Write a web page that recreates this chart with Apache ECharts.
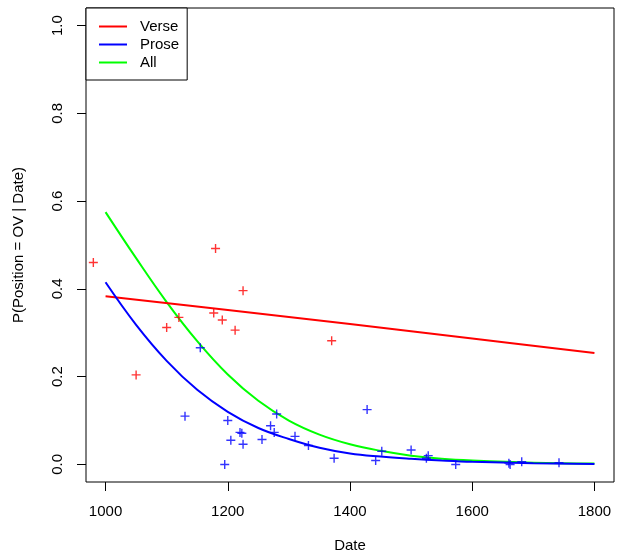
<!DOCTYPE html>
<html>
<head>
<meta charset="utf-8">
<script src="https://cdn.jsdelivr.net/npm/echarts@6/dist/echarts.min.js"></script>
<style>
html,body{margin:0;padding:0;background:#fff;}
#chart{width:619px;height:554px;}
</style>
</head>
<body>
<div id="chart"></div>
<script>
// Observed points (pch = +)
var verseDates = [980, 1050, 1100, 1120, 1177, 1180, 1191, 1212, 1225, 1370];
var verseVals  = [0.460, 0.204, 0.312, 0.335, 0.345, 0.492, 0.329, 0.306, 0.396, 0.282];

var proseDates = [1130, 1155, 1195, 1200, 1205, 1220, 1223, 1225, 1256, 1270, 1276, 1280, 1310, 1332, 1374, 1428, 1442, 1452, 1500, 1525, 1528, 1573, 1660, 1662, 1681, 1742];
var proseVals  = [0.110, 0.266, 0.000, 0.100, 0.055, 0.073, 0.071, 0.046, 0.057, 0.088, 0.073, 0.115, 0.064, 0.043, 0.014, 0.125, 0.009, 0.030, 0.033, 0.014, 0.020, 0.000, 0.003, 0.000, 0.006, 0.004];

// Fitted curves
var verseCurveDates = [1000, 1200, 1400, 1600, 1800];
var verseCurveVals  = [0.383, 0.352, 0.320, 0.287, 0.254];

var proseCurveDates = [1000, 1050, 1100, 1150, 1200, 1250, 1300, 1350, 1400, 1450, 1500, 1550, 1600, 1700, 1800];
var proseCurveVals  = [0.415, 0.318, 0.236, 0.170, 0.120, 0.083, 0.058, 0.038, 0.025, 0.018, 0.013, 0.009, 0.006, 0.003, 0.001];

var allCurveDates = [1000, 1050, 1100, 1150, 1200, 1250, 1300, 1350, 1400, 1450, 1500, 1550, 1600, 1700, 1800];
var allCurveVals  = [0.575, 0.470, 0.370, 0.281, 0.205, 0.145, 0.100, 0.068, 0.046, 0.031, 0.020, 0.013, 0.009, 0.004, 0.002];

var xTicks = [1000, 1200, 1400, 1600, 1800];
var yTicks = [0.0, 0.2, 0.4, 0.6, 0.8, 1.0];

function zip(a, b) { return a.map(function (v, i) { return [v, b[i]]; }); }

var plus = 'path://M0,-1L0,1M-1,0L1,0';
var font = 'Liberation Sans, Arial, sans-serif';
var fs = 15;

var chart = echarts.init(document.getElementById('chart'), null, {renderer: 'canvas'});
chart.setOption({
  animation: false,
  backgroundColor: '#fff',
  grid: {left: 86, right: 5, top: 8, bottom: 72, show: true, borderColor: '#000', borderWidth: 1,
    containLabel: false, outerBoundsMode: 'none'},
  xAxis: {
    type: 'value', min: 968, max: 1832,
    name: 'Date', nameLocation: 'middle', nameGap: 56,
    nameTextStyle: {color: '#000', fontSize: fs, fontFamily: font},
    axisLine: {show: false, onZero: false},
    axisTick: {show: true, length: 9, customValues: xTicks, lineStyle: {color: '#000', width: 1}},
    axisLabel: {customValues: xTicks, color: '#000', fontSize: fs, fontFamily: font, margin: 22,
      formatter: function (v) { return String(v); }},
    splitLine: {show: false}
  },
  yAxis: {
    type: 'value', min: -0.04, max: 1.04,
    name: 'P(Position = OV | Date)', nameLocation: 'middle', nameGap: 60,
    nameTextStyle: {color: '#000', fontSize: fs, fontFamily: font},
    axisLine: {show: false, onZero: false},
    axisTick: {show: true, length: 9, customValues: yTicks, lineStyle: {color: '#000', width: 1}},
    axisLabel: {customValues: yTicks, color: '#000', fontSize: fs, fontFamily: font, rotate: 90, margin: 21,
      formatter: function (v) { return v.toFixed(1); }},
    splitLine: {show: false}
  },
  legend: {
    left: 86, top: 8, orient: 'vertical',
    backgroundColor: '#fff', borderColor: '#000', borderWidth: 1, borderRadius: 0,
    padding: [11, 8, 10, 13], itemGap: 3, itemWidth: 28, itemHeight: 2,
    icon: 'rect',
    textStyle: {color: '#000', fontSize: fs, fontFamily: font, padding: [0, 0, 0, 8]},
    data: ['Verse', 'Prose', 'All']
  },
  series: [
    {name: 'Verse', type: 'line', data: zip(verseCurveDates, verseCurveVals), smooth: 0.4, showSymbol: false,
      lineStyle: {color: '#ff0000', width: 2}, itemStyle: {color: '#ff0000'}, z: 3},
    {name: 'Prose', type: 'line', data: zip(proseCurveDates, proseCurveVals), smooth: 0.4, showSymbol: false,
      lineStyle: {color: '#0000ff', width: 2}, itemStyle: {color: '#0000ff'}, z: 3},
    {name: 'All', type: 'line', data: zip(allCurveDates, allCurveVals), smooth: 0.4, showSymbol: false,
      lineStyle: {color: '#00ff00', width: 2}, itemStyle: {color: '#00ff00'}, z: 2},
    {name: 'versePts', type: 'scatter', data: zip(verseDates, verseVals), symbol: plus, symbolSize: 9,
      itemStyle: {color: 'rgba(0,0,0,0)', borderColor: '#ff0000', borderWidth: 1.4}, z: 4},
    {name: 'prosePts', type: 'scatter', data: zip(proseDates, proseVals), symbol: plus, symbolSize: 9,
      itemStyle: {color: 'rgba(0,0,0,0)', borderColor: '#0000ff', borderWidth: 1.4}, z: 4}
  ]
});
</script>
</body>
</html>
